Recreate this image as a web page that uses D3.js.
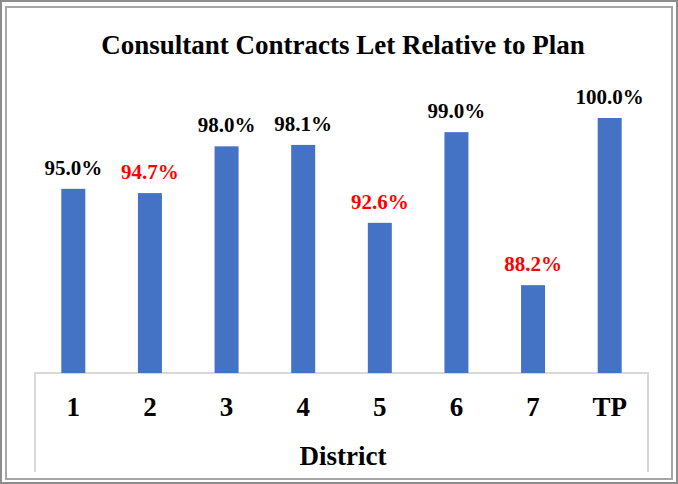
<!DOCTYPE html>
<html>
<head>
<meta charset="utf-8">
<script src="https://cdn.jsdelivr.net/npm/d3@7"></script>
<style>
  html, body { margin: 0; padding: 0; background: #fff; }
  svg { display: block; }
  text { font-family: "Liberation Serif", "Times New Roman", serif; font-weight: bold; }
</style>
</head>
<body>
<svg id="chart" width="678" height="484"></svg>
<script>
const districts = ["1", "2", "3", "4", "5", "6", "7", "TP"];
const percentLet = [95.0, 94.7, 98.0, 98.1, 92.6, 99.0, 88.2, 100.0];
const target = 95.0;
const chartTitle = "Consultant Contracts Let Relative to Plan";
const axisTitle = "District";

(function () {
const W = 678, H = 484;
const svg = d3.select("#chart");

// frame
svg.append("rect").attr("x", 1).attr("y", 1).attr("width", W - 2).attr("height", H - 2)
  .attr("fill", "#fff").attr("stroke", "#8c8c8c").attr("stroke-width", 2);
svg.append("rect").attr("x", 6).attr("y", 7).attr("width", W - 12).attr("height", H - 12)
  .attr("fill", "#fff").attr("stroke", "#a6a6a6").attr("stroke-width", 2);

const plotLeft = 35, plotRight = 648, plotBottom = 373, plotTop = 118;
const x = d3.scaleBand().domain(districts).range([plotLeft, plotRight]).paddingInner(0.687).paddingOuter(0.3435);
const y = d3.scaleLinear().domain([82, 100]).range([plotBottom, plotTop]);

// title
svg.append("text").attr("x", 343).attr("y", 54).attr("text-anchor", "middle")
  .attr("font-size", 27).attr("fill", "#000").text(chartTitle);

// axis box
svg.append("path")
  .attr("d", `M${plotLeft},472V${plotBottom}H${plotRight}V472`)
  .attr("fill", "none").attr("stroke", "#d9d9d9").attr("stroke-width", 2);

// bars
svg.append("g").selectAll("rect").data(districts).join("rect")
  .attr("x", d => x(d))
  .attr("width", x.bandwidth())
  .attr("y", (d, i) => y(percentLet[i]))
  .attr("height", (d, i) => plotBottom - y(percentLet[i]))
  .attr("fill", "#4472c4");

// value labels
svg.append("g").selectAll("text").data(districts).join("text")
  .attr("x", d => x(d) + x.bandwidth() / 2)
  .attr("y", (d, i) => y(percentLet[i]) - 14)
  .attr("text-anchor", "middle")
  .attr("font-size", 21)
  .attr("fill", (d, i) => percentLet[i] < target ? "#ff0000" : "#000")
  .text((d, i) => percentLet[i].toFixed(1) + "%");

// x axis labels via d3 axis
const xAxis = d3.axisBottom(x).tickSize(0).tickPadding(0);
const gx = svg.append("g").attr("transform", `translate(0,${plotBottom})`).call(xAxis);
gx.select(".domain").remove();
gx.selectAll("text")
  .attr("dy", null).attr("y", 43)
  .attr("font-size", 27).attr("font-family", "Liberation Serif, Times New Roman, serif")
  .attr("font-weight", "bold").attr("fill", "#000");

// axis title
svg.append("text").attr("x", 343).attr("y", 465).attr("text-anchor", "middle")
  .attr("font-size", 27).attr("fill", "#000").text(axisTitle);
})();
</script>
</body>
</html>
